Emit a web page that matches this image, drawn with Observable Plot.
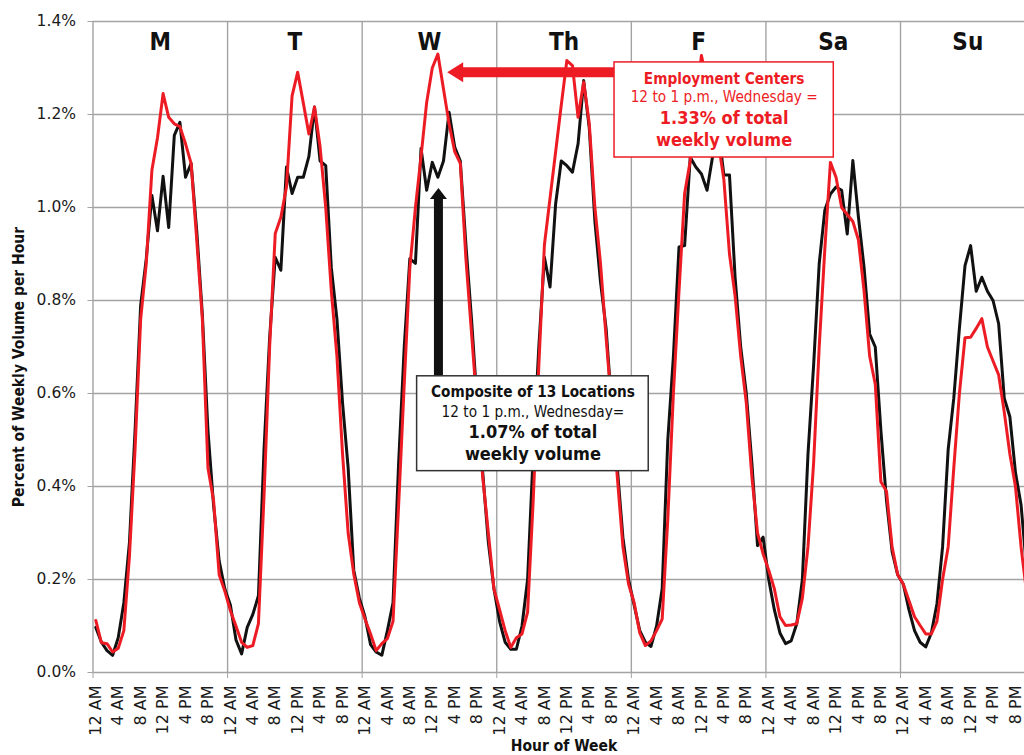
<!DOCTYPE html>
<html>
<head>
<meta charset="utf-8">
<script src="https://cdn.jsdelivr.net/npm/d3@7"></script>
<script src="https://cdn.jsdelivr.net/npm/@observablehq/plot@0.6"></script>
<style>
  html, body { margin: 0; padding: 0; background: #fff; }
</style>
</head>
<body>
<div id="chart"></div>
<script>
// ---- data ----
const dayLabels = ["M", "T", "W", "Th", "F", "Sa", "Su"];
const hourTickLabels = ["12 AM", "4 AM", "8 AM", "12 PM", "4 PM", "8 PM"];
const yTicks = [0, 0.2, 0.4, 0.6, 0.8, 1.0, 1.2, 1.4];

// Composite of 13 locations, percent of weekly volume, hour 0 = Monday 12 AM
const composite = [
  0.097, 0.065, 0.047, 0.037, 0.075, 0.15, 0.28, 0.52, 0.79, 0.89, 1.026, 0.95, 1.067, 0.957, 1.155, 1.183, 1.065, 1.095, 0.95, 0.77, 0.52, 0.36, 0.24, 0.18,
  0.145, 0.07, 0.04, 0.097, 0.125, 0.165, 0.48, 0.72, 0.893, 0.865, 1.087, 1.03, 1.065, 1.065, 1.11, 1.216, 1.10, 1.09, 0.87, 0.76, 0.58, 0.44, 0.22, 0.16,
  0.12, 0.06, 0.044, 0.037, 0.09, 0.15, 0.45, 0.70, 0.89, 0.88, 1.127, 1.037, 1.097, 1.065, 1.10, 1.205, 1.13, 1.10, 0.92, 0.76, 0.58, 0.43, 0.28, 0.18,
  0.11, 0.065, 0.05, 0.05, 0.10, 0.20, 0.47, 0.70, 0.893, 0.829, 1.008, 1.10, 1.09, 1.076, 1.137, 1.273, 1.17, 0.97, 0.84, 0.74, 0.57, 0.44, 0.29, 0.20,
  0.145, 0.09, 0.065, 0.056, 0.10, 0.18, 0.50, 0.68, 0.915, 0.918, 1.108, 1.087, 1.072, 1.037, 1.11, 1.17, 1.07, 1.07, 0.85, 0.70, 0.60, 0.45, 0.273, 0.291,
  0.20, 0.135, 0.085, 0.062, 0.068, 0.105, 0.20, 0.47, 0.66, 0.879, 0.994, 1.029, 1.044, 1.037, 0.943, 1.101, 0.979, 0.871, 0.728, 0.70, 0.52, 0.37, 0.26, 0.21,
  0.19, 0.135, 0.09, 0.065, 0.055, 0.085, 0.148, 0.27, 0.48, 0.59, 0.74, 0.875, 0.918, 0.82, 0.85, 0.82, 0.80, 0.75, 0.59, 0.55, 0.43, 0.36, 0.22, 0.15
];

// Employment centers, percent of weekly volume
const employment = [
  0.112, 0.064, 0.062, 0.044, 0.052, 0.09, 0.25, 0.48, 0.76, 0.88, 1.08, 1.15, 1.245, 1.194, 1.18, 1.174, 1.137, 1.095, 0.93, 0.76, 0.44, 0.37, 0.21, 0.175,
  0.133, 0.10, 0.065, 0.054, 0.058, 0.105, 0.38, 0.70, 0.944, 0.979, 1.044, 1.24, 1.291, 1.225, 1.158, 1.216, 1.13, 1.00, 0.82, 0.68, 0.47, 0.30, 0.212, 0.15,
  0.115, 0.083, 0.047, 0.062, 0.073, 0.11, 0.36, 0.62, 0.87, 1.00, 1.11, 1.226, 1.30, 1.33, 1.255, 1.18, 1.12, 1.095, 0.89, 0.73, 0.57, 0.42, 0.30, 0.18,
  0.135, 0.09, 0.054, 0.075, 0.083, 0.13, 0.37, 0.66, 0.92, 1.02, 1.12, 1.22, 1.316, 1.305, 1.194, 1.27, 1.18, 1.0, 0.88, 0.72, 0.57, 0.42, 0.27, 0.19,
  0.15, 0.085, 0.058, 0.068, 0.09, 0.115, 0.33, 0.60, 0.82, 1.03, 1.10, 1.22, 1.327, 1.27, 1.22, 1.14, 1.06, 0.90, 0.81, 0.68, 0.58, 0.42, 0.30, 0.255,
  0.22, 0.18, 0.12, 0.101, 0.102, 0.105, 0.16, 0.27, 0.45, 0.70, 0.91, 1.097, 1.065, 1.00, 0.985, 0.97, 0.93, 0.82, 0.68, 0.62, 0.41, 0.39, 0.27, 0.21,
  0.19, 0.155, 0.12, 0.101, 0.083, 0.083, 0.11, 0.20, 0.27, 0.44, 0.60, 0.72, 0.721, 0.74, 0.761, 0.70, 0.67, 0.64, 0.56, 0.47, 0.40, 0.27, 0.17, 0.12
];

// annotation texts
const redNoteLines = ["Employment Centers", "12 to 1 p.m., Wednesday =", "1.33% of total", "weekly volume"];
const blackNoteLines = ["Composite of 13 Locations", "12 to 1 p.m., Wednesday=", "1.07% of total", "weekly volume"];

// ---- build ----
const RED = "#ed1c24";
const GRID = "#a3a3a3";
const INK = "#111111";
const TICKFONT = "'DejaVu Sans', sans-serif";
const rows = composite.map((c, i) => ({hour: i, composite: c, employment: employment[i]}));
const dayStarts = d3.range(0, 169, 24);
const hourTicks = d3.range(0, 168, 4);

// annotation anchors (hours of week / percent)
const redBox = {x1: 93.0, x2: 132.1, y1: 1.1075, y2: 1.312};
const blackBox = {x1: 57.8, x2: 99.1, y1: 0.433, y2: 0.637};
const redArrow = {tip: 63.16, head: 65.85, y: 1.291};
const blackArrow = {x: 61.6, tip: 1.042, head: 1.02};
const redLineY = [1.277, 1.237, 1.191, 1.1455];
const blackLineY = [0.6028, 0.5598, 0.5168, 0.4688];
const lineStyle = [
  {fontWeight: "bold", fontSize: 15.2},
  {fontWeight: "normal", fontSize: 15.2},
  {fontWeight: "bold", fontSize: 18},
  {fontWeight: "bold", fontSize: 18}
];

const marks = [
  Plot.gridY(yTicks, {stroke: GRID, strokeOpacity: 1, strokeWidth: 1.4}),
  Plot.ruleX(dayStarts, {y1: 0, y2: 1.4, stroke: GRID, strokeWidth: 1.4}),
  Plot.axisY({ticks: yTicks, tickFormat: d => d.toFixed(1) + "%", tickSize: 5, tickPadding: 12,
              fontSize: 15.5, fontFamily: TICKFONT, stroke: GRID, fill: "#1a1a1a", label: null}),
  Plot.axisX({ticks: dayStarts, tickSize: 6, tickFormat: () => "", stroke: GRID, label: null}),
  Plot.text(hourTicks, {x: d => d + 0.5, text: d => hourTickLabels[(d % 24) / 4], frameAnchor: "bottom",
              rotate: -90, textAnchor: "end", lineAnchor: "middle", dy: 13, fontSize: 16,
              fontFamily: TICKFONT, fill: "#1a1a1a"}),
  Plot.text(dayLabels, {x: (d, i) => i * 24 + 12, text: d => d, frameAnchor: "top", dy: 21,
              lineAnchor: "middle", fontSize: 24, fontWeight: "bold", fill: INK}),
  Plot.line(rows, {x: d => d.hour + 0.5, y: "composite", stroke: INK, strokeWidth: 3, clip: true}),
  Plot.line(rows, {x: d => d.hour + 0.5, y: "employment", stroke: RED, strokeWidth: 3, clip: true}),
  // red arrow
  Plot.ruleY([redArrow], {y: "y", x1: d => d.head - 0.2, x2: redBox.x1, stroke: RED, strokeWidth: 10}),
  Plot.vector([redArrow], {x: "tip", y: "y", rotate: 270, length: 16, r: 10, shape: "spike", anchor: "end",
              fill: RED, stroke: "none"}),
  // black arrow
  Plot.ruleX([blackArrow], {x: "x", y1: blackBox.y2, y2: d => d.head + 0.002, stroke: INK, strokeWidth: 9}),
  Plot.vector([blackArrow], {x: "x", y: "tip", rotate: 0, length: 11, r: 8.5, shape: "spike", anchor: "end",
              fill: INK, stroke: "none"}),
  // boxes
  Plot.rect([redBox], {x1: "x1", x2: "x2", y1: "y1", y2: "y2", fill: "white", stroke: RED, strokeWidth: 1.5}),
  Plot.rect([blackBox], {x1: "x1", x2: "x2", y1: "y1", y2: "y2", fill: "white", stroke: "#333", strokeWidth: 1.5}),
  ...redNoteLines.map((t, i) => Plot.text([t], {x: (redBox.x1 + redBox.x2) / 2, y: redLineY[i], text: d => d,
              lineAnchor: "middle", fill: RED, ...lineStyle[i]})),
  ...blackNoteLines.map((t, i) => Plot.text([t], {x: (blackBox.x1 + blackBox.x2) / 2, y: blackLineY[i], text: d => d,
              lineAnchor: "middle", fill: INK, ...lineStyle[i]})),
  // axis titles
  Plot.text(["Hour of Week"], {x: 84, frameAnchor: "bottom", dy: 74, text: d => d, lineAnchor: "middle",
              fontSize: 15.5, fontWeight: "bold", fill: INK}),
  Plot.text(["Percent of Weekly Volume per Hour"], {frameAnchor: "left", dx: -74, dy: 20, rotate: -90, text: d => d,
              textAnchor: "middle", lineAnchor: "middle", fontSize: 15.5, fontWeight: "bold", fill: INK})
];

const chart = Plot.plot({
  width: 1024,
  height: 755,
  marginLeft: 92.5,
  marginRight: 0,
  marginTop: 21,
  marginBottom: 83,
  x: {domain: [0, 168], range: [92.5, 1034.6]},
  y: {domain: [0, 1.4]},
  style: {fontFamily: "'DejaVu Sans Condensed', 'DejaVu Sans', sans-serif", background: "white", color: INK},
  marks
});
document.getElementById("chart").appendChild(chart);
</script>
</body>
</html>
